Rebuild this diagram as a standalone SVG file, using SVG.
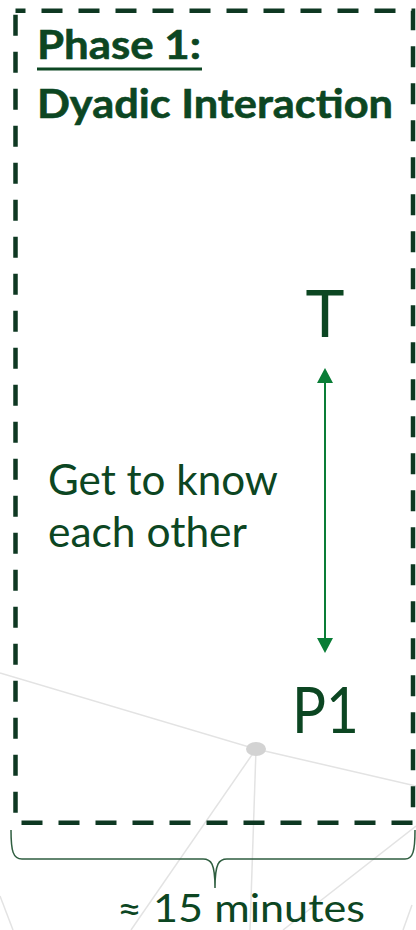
<svg xmlns="http://www.w3.org/2000/svg" width="416" height="930" viewBox="0 0 416 930">
<style>
.bg{stroke:#e3e3e3;stroke-width:1.5;fill:none}
.t{font-family:Lato,"Open Sans","Liberation Sans",sans-serif;fill:#0c4622}
.b{font-weight:bold}
</style>
<defs>
<marker id="ah" viewBox="0 0 15 16" refX="0" refY="8" markerWidth="15" markerHeight="16" markerUnits="userSpaceOnUse" orient="auto-start-reverse">
<path d="M0,0 L15,8 L0,16 z" fill="#0a7d36"/>
</marker>
</defs>
<rect width="416" height="930" fill="#ffffff"/>
<g id="background">
<line class="bg" x1="0" y1="673" x2="256" y2="749"/>
<line class="bg" x1="256" y1="749" x2="416" y2="786"/>
<line class="bg" x1="256" y1="749" x2="131" y2="930"/>
<line class="bg" x1="256" y1="749" x2="250" y2="930"/>
<line class="bg" x1="416" y1="826" x2="283" y2="930"/>
<line class="bg" x1="0" y1="896" x2="13" y2="930"/>
<line class="bg" x1="412" y1="905" x2="403" y2="930"/>
<ellipse cx="256" cy="749" rx="10" ry="7" fill="#d3d3d3"/>
</g>
<g id="phase-box">
<rect x="15.5" y="10.7" width="397.5" height="812" fill="none" stroke="#0e3822" stroke-width="4.5" stroke-dasharray="21 16" stroke-dashoffset="11"/>
<text class="t b" x="37" y="59" font-size="41" textLength="164" lengthAdjust="spacingAndGlyphs" stroke="#0c4622" stroke-width="0.6">Phase 1:</text>
<rect x="37" y="67.5" width="165" height="3" fill="#0c4622"/>
<text class="t b" x="37" y="118" font-size="41" textLength="356" lengthAdjust="spacingAndGlyphs" stroke="#0c4622" stroke-width="0.6">Dyadic Interaction</text>
</g>
<g id="label">
<text class="t" x="48" y="495" font-size="42" textLength="230" lengthAdjust="spacingAndGlyphs">Get to know</text>
<text class="t" x="48" y="547" font-size="42" textLength="199" lengthAdjust="spacingAndGlyphs">each other</text>
</g>
<g id="node-T">
<text class="t" x="325" y="337" font-size="66" text-anchor="middle">T</text>
</g>
<g id="node-P1">
<text class="t" x="292" y="733" font-size="63" textLength="67" lengthAdjust="spacingAndGlyphs">P1</text>
</g>
<g id="connectors">
<line x1="325" y1="383" x2="325" y2="638" stroke="#0a7d36" stroke-width="2" marker-start="url(#ah)" marker-end="url(#ah)"/>
</g>
<g id="duration">
<path d="M11,830 C11,851 13,859 22,859 L203,859 C211,859 215,863 215,888 C215,863 219,859 227,859 L405,859 C413,859 415,851 415,830" fill="none" stroke="#2f5e40" stroke-width="1.5"/>
<text class="t" x="117" y="922" font-size="39" textLength="248" lengthAdjust="spacingAndGlyphs">≈ 15 minutes</text>
</g>
</svg>
